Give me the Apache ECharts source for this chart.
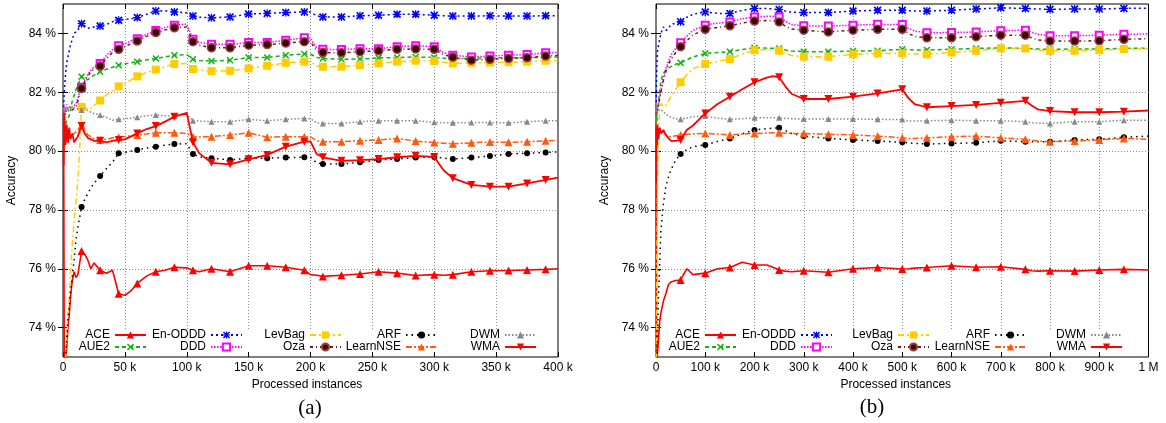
<!DOCTYPE html>
<html><head><meta charset="utf-8">
<script src="https://cdn.jsdelivr.net/npm/echarts@6/dist/echarts.min.js"></script>
<style>html,body{margin:0;padding:0;background:#fff;}#c{width:1166px;height:423px;}</style>
</head><body><div id="c"></div>
<script>
// ---------- DATA ----------
const seriesNames = ['ACE','AUE2','En-ODDD','DDD','LevBag','Oza','ARF','LearnNSE','DWM','WMA'];
const yTicks = [74, 76, 78, 80, 82, 84];
const panelLabels = ['(a)', '(b)'];

// panel (a): processed instances (thousands)
const xA = [0.5, 1, 2, 3, 4, 5, 6,
  7.5, 9, 10.5, 12, 13.5, 15,
  17.5, 20, 22.5, 25, 30, 35, 40, 45, 50, 55, 60,
  67.5, 75, 82.5, 90, 100,
  105, 110, 120, 135, 150, 165, 180, 195, 200,
  205, 210, 225, 240, 255, 270, 285, 300,
  307.5, 315, 330, 345, 360, 375, 390, 400];
const aACE = [81.2, 73.0, 72.9, 73.3, 74.0, 74.4, 75.0,
  75.6, 75.9, 75.7, 75.8, 76.2, 76.6,
  76.5, 76.3, 76.0, 76.2, 75.95, 75.85, 75.95, 75.15, 75.1, 75.25, 75.5,
  75.75, 75.9, 75.95, 76.05, 76.03,
  75.95, 75.9, 76.0, 75.9, 76.1, 76.1, 76.05, 75.95, 75.8,
  75.78, 75.74, 75.78, 75.82, 75.9, 75.85, 75.77, 75.8,
  75.78, 75.8, 75.9, 75.93, 75.94, 75.96, 75.98, 76.0];
const aAUE2 = [80.8, 80.5, 80.9, 81.05, 81.1, 81.2, 81.4,
  81.7, 81.9, 82.1, 82.25, 82.4, 82.53,
  82.45, 82.42, 82.5, 82.58, 82.7, 82.78, 82.85, 82.92, 82.96, 83.0, 83.04,
  83.1, 83.15, 83.2, 83.26, 83.28,
  83.12, 83.08, 83.06, 83.09, 83.18, 83.18, 83.26, 83.3, 83.3,
  83.18, 83.15, 83.12, 83.13, 83.17, 83.18, 83.2, 83.18,
  83.16, 83.15, 83.15, 83.17, 83.17, 83.18, 83.18, 83.2];
const aEnODDD = [81.5, 82.0, 82.6, 83.0, 83.2, 83.4, 83.6,
  83.8, 84.0, 84.05, 84.1, 84.25, 84.33,
  84.25, 84.17, 84.2, 84.22, 84.25, 84.3, 84.4, 84.45, 84.48, 84.5, 84.54,
  84.65, 84.76, 84.77, 84.73, 84.7,
  84.59, 84.55, 84.53, 84.56, 84.66, 84.68, 84.71, 84.73, 84.73,
  84.6, 84.56, 84.56, 84.6, 84.62, 84.65, 84.65, 84.62,
  84.6, 84.59, 84.59, 84.6, 84.59, 84.59, 84.6, 84.6];
const aDDD = [81.6, 81.2, 81.5, 81.4, 81.45, 81.5, 81.45,
  81.5, 81.55, 81.6, 81.8, 82.0, 82.17,
  82.4, 82.6, 82.75, 82.85, 82.98, 83.25, 83.45, 83.58, 83.65, 83.75, 83.82,
  83.97, 84.1, 84.2, 84.28, 84.32,
  83.8, 83.7, 83.63, 83.63, 83.69, 83.69, 83.77, 83.85, 83.83,
  83.5, 83.46, 83.45, 83.48, 83.48, 83.55, 83.58, 83.55,
  83.35, 83.26, 83.2, 83.23, 83.26, 83.28, 83.34, 83.35];
const aLevBag = [72.5, 72.8, 72.9, 73.6, 74.4, 75.0, 75.8,
  76.8, 77.6, 78.3, 79.0, 80.1, 81.5,
  81.5, 81.42, 81.45, 81.55, 81.72, 81.9, 82.05, 82.2, 82.3, 82.42, 82.54,
  82.67, 82.77, 82.87, 82.96, 82.98,
  82.79, 82.75, 82.72, 82.73, 82.81, 82.9, 83.0, 83.04, 83.04,
  82.9, 82.87, 82.87, 82.92, 82.98, 83.04, 83.07, 83.06,
  83.02, 82.98, 83.0, 83.01, 83.02, 83.04, 83.07, 83.08];
const aOza = [81.3, 81.0, 81.4, 81.3, 81.35, 81.4, 81.35,
  81.4, 81.45, 81.5, 81.7, 81.95, 82.13,
  82.35, 82.55, 82.7, 82.78, 82.89, 83.15, 83.35, 83.46, 83.55, 83.65, 83.74,
  83.9, 84.03, 84.12, 84.19, 84.22,
  83.72, 83.6, 83.51, 83.51, 83.6, 83.62, 83.67, 83.72, 83.72,
  83.4, 83.35, 83.34, 83.38, 83.41, 83.46, 83.47, 83.46,
  83.28, 83.19, 83.09, 83.12, 83.15, 83.17, 83.23, 83.25];
const aARF = [72.0, 72.3, 72.8, 73.6, 74.26, 74.7, 75.2,
  75.75, 76.3, 77.0, 77.4, 77.75, 78.1,
  78.35, 78.55, 78.75, 78.9, 79.15, 79.4, 79.62, 79.93, 79.95, 80.0, 80.04,
  80.1, 80.15, 80.2, 80.24, 80.25,
  79.9, 79.8, 79.76, 79.7, 79.76, 79.76, 79.78, 79.79, 79.79,
  79.6, 79.56, 79.56, 79.62, 79.7, 79.73, 79.78, 79.8,
  79.76, 79.73, 79.78, 79.83, 79.9, 79.93, 79.95, 79.97];
const aLearnNSE = [80.0, 80.8, 80.3, 80.5, 80.27, 80.4, 80.5,
  80.55, 80.6, 80.65, 80.7, 80.8, 80.89,
  80.7, 80.55, 80.49, 80.42, 80.38, 80.4, 80.45, 80.47, 80.5, 80.52, 80.55,
  80.58, 80.62, 80.62, 80.62, 80.6,
  80.49, 80.48, 80.49, 80.55, 80.62, 80.47, 80.49, 80.49, 80.48,
  80.35, 80.32, 80.32, 80.35, 80.38, 80.43, 80.34, 80.29,
  80.27, 80.25, 80.28, 80.31, 80.3, 80.32, 80.35, 80.36];
const aDWM = [81.0, 81.5, 81.2, 81.6, 81.4, 81.5, 81.55,
  81.5, 81.45, 81.45, 81.4, 81.42, 81.4,
  81.45, 81.38, 81.32, 81.28, 81.23, 81.15, 81.05, 81.08, 81.1, 81.12, 81.15,
  81.2, 81.23, 81.2, 81.19, 81.25,
  81.03, 81.02, 81.0, 81.0, 81.08, 81.03, 81.08, 81.11, 81.1,
  80.96, 80.94, 80.94, 81.0, 81.03, 81.03, 81.03, 80.98,
  80.96, 80.96, 80.97, 80.97, 80.96, 81.0, 81.03, 81.03];
const aWMA = [79.5, 81.3, 80.2, 80.9, 80.3, 80.8, 80.4,
  80.6, 80.3, 80.4, 80.5, 80.7, 80.85,
  80.6, 80.45, 80.4, 80.35, 80.35, 80.3, 80.35, 80.38, 80.4, 80.5, 80.6,
  80.75, 80.85, 81.0, 81.17, 81.3,
  80.3, 79.93, 79.6, 79.55, 79.72, 79.87, 80.15, 80.32, 80.33,
  79.9, 79.79, 79.67, 79.69, 79.73, 79.79, 79.84, 79.8,
  79.35, 79.08, 78.85, 78.79, 78.79, 78.9, 79.02, 79.1];

// panel (b): processed instances (thousands)
const xB = [0.5, 1, 2, 3, 5, 7.5, 10,
  15, 20, 25, 30, 40, 50, 62.5, 75,
  100, 125, 150, 175, 200, 225, 237.5,
  250, 262.5, 275, 300, 350, 400, 450,
  500, 512.5, 525, 550, 600, 650, 700,
  750, 762.5, 775, 800, 850, 900, 950, 1000];
const bACE = [81.0, 73.0, 72.8, 73.13, 73.6, 74.2, 74.5,
  74.9, 75.15, 75.45, 75.55, 75.6, 75.62, 76.0, 75.8,
  75.85, 76.0, 76.04, 76.22, 76.13, 76.13, 76.05,
  75.96, 75.92, 75.9, 75.93, 75.88, 76.0, 76.04,
  75.99, 76.0, 76.02, 76.04, 76.1, 76.05, 76.07,
  75.98, 75.93, 75.92, 75.93, 75.92, 75.96, 75.98, 75.96];
const bAUE2 = [80.9, 81.3, 81.0, 81.4, 81.6, 82.1, 82.4,
  82.65, 82.75, 82.82, 82.87, 82.95, 83.0, 83.1, 83.2,
  83.32, 83.35, 83.38, 83.45, 83.51, 83.5, 83.5,
  83.49, 83.44, 83.4, 83.38, 83.38, 83.4, 83.41,
  83.46, 83.45, 83.44, 83.44, 83.46, 83.49, 83.51,
  83.49, 83.48, 83.47, 83.46, 83.47, 83.47, 83.49, 83.5];
const bEnODDD = [81.5, 82.5, 83.0, 83.4, 83.6, 83.8, 84.0,
  84.22, 84.1, 84.15, 84.3, 84.35, 84.4, 84.55, 84.65,
  84.73, 84.68, 84.68, 84.78, 84.85, 84.85, 84.83,
  84.81, 84.76, 84.72, 84.71, 84.71, 84.76, 84.79,
  84.79, 84.77, 84.76, 84.76, 84.79, 84.83, 84.87,
  84.85, 84.84, 84.83, 84.82, 84.83, 84.83, 84.85, 84.86];
const bDDD = [81.3, 81.6, 81.4, 81.5, 81.6, 81.9, 82.1,
  82.5, 82.8, 83.05, 83.25, 83.5, 83.68, 83.9, 84.1,
  84.28, 84.35, 84.39, 84.5, 84.56, 84.58, 84.58,
  84.56, 84.42, 84.3, 84.26, 84.25, 84.28, 84.31,
  84.3, 84.18, 84.08, 84.02, 84.03, 84.05, 84.09,
  84.11, 84.05, 83.97, 83.92, 83.92, 83.94, 83.97, 83.98];
const bLevBag = [72.5, 74.0, 77.0, 79.0, 80.5, 81.5, 81.62,
  81.5, 81.55, 81.68, 81.85, 82.1, 82.34, 82.6, 82.8,
  82.96, 83.05, 83.13, 83.3, 83.43, 83.45, 83.44,
  83.41, 83.32, 83.25, 83.21, 83.21, 83.29, 83.32,
  83.32, 83.3, 83.3, 83.29, 83.35, 83.41, 83.49,
  83.49, 83.46, 83.43, 83.41, 83.41, 83.43, 83.47, 83.48];
const bOza = [81.2, 81.4, 81.3, 81.4, 81.5, 81.8, 82.0,
  82.4, 82.7, 82.95, 83.1, 83.35, 83.55, 83.75, 83.95,
  84.14, 84.2, 84.26, 84.35, 84.42, 84.44, 84.43,
  84.39, 84.25, 84.15, 84.11, 84.05, 84.11, 84.14,
  84.14, 84.0, 83.9, 83.85, 83.85, 83.89, 83.94,
  83.94, 83.85, 83.78, 83.74, 83.74, 83.75, 83.8, 83.82];
const bARF = [72.0, 72.5, 73.0, 73.6, 75.0, 76.2, 77.3,
  78.2, 78.8, 79.1, 79.35, 79.7, 79.9, 80.05, 80.15,
  80.21, 80.33, 80.43, 80.58, 80.72, 80.76, 80.78,
  80.79, 80.7, 80.6, 80.51, 80.43, 80.38, 80.34,
  80.3, 80.28, 80.26, 80.24, 80.26, 80.28, 80.35,
  80.32, 80.32, 80.32, 80.32, 80.38, 80.4, 80.47, 80.51];
const bLearnNSE = [80.2, 80.9, 80.5, 80.7, 80.6, 80.7, 80.72,
  80.65, 80.55, 80.5, 80.49, 80.52, 80.55, 80.57, 80.59,
  80.6, 80.58, 80.55, 80.58, 80.6, 80.61, 80.62,
  80.62, 80.61, 80.6, 80.6, 80.57, 80.55, 80.51,
  80.45, 80.43, 80.43, 80.45, 80.49, 80.51, 80.45,
  80.4, 80.37, 80.34, 80.32, 80.34, 80.38, 80.43, 80.4];
const bDWM = [81.0, 81.6, 81.3, 81.5, 81.4, 81.45, 81.4,
  81.35, 81.25, 81.2, 81.15, 81.1, 81.08, 81.12, 81.17,
  81.19, 81.12, 81.08, 81.1, 81.13, 81.13, 81.13,
  81.13, 81.11, 81.1, 81.09, 81.09, 81.09, 81.08,
  81.07, 81.02, 81.02, 81.03, 81.05, 81.03, 81.03,
  81.0, 80.96, 80.95, 80.94, 81.0, 81.0, 81.05, 81.05];
const bWMA = [79.0, 80.8, 80.2, 80.9, 80.4, 80.8, 80.6,
  80.72, 80.55, 80.45, 80.35, 80.35, 80.38, 80.72, 80.87,
  81.28, 81.6, 81.85, 82.1, 82.34, 82.5, 82.55,
  82.51, 82.2, 81.95, 81.77, 81.77, 81.85, 81.96,
  82.1, 81.8, 81.6, 81.49, 81.53, 81.57, 81.64,
  81.71, 81.55, 81.42, 81.36, 81.32, 81.32, 81.34, 81.38];

// ---------- STYLE ----------
const FONT = '"Liberation Sans", Arial, Helvetica, sans-serif';
const P_X = 'path://M0,1.5 L1.5,0 L5,3.5 L8.5,0 L10,1.5 L6.5,5 L10,8.5 L8.5,10 L5,6.5 L1.5,10 L0,8.5 L3.5,5 Z';
const P_STAR = 'path://M0,1.5 L1.5,0 L5,3.5 L8.5,0 L10,1.5 L6.5,5 L10,8.5 L8.5,10 L5,6.5 L1.5,10 L0,8.5 L3.5,5 Z M4.2,0 L5.8,0 L5.8,4.2 L10,4.2 L10,5.8 L5.8,5.8 L5.8,10 L4.2,10 L4.2,5.8 L0,5.8 L0,4.2 L4.2,4.2 Z';
const P_DOWN = 'path://M0,0 L10,0 L5,9 Z';
const STY = {
  'ACE':      {c:'#ff0000', t:'solid',      w:1.6, s:'triangle',  z:8, it:{}},
  'AUE2':     {c:'#13b313', t:[4,3],        w:1.5, s:P_X,         z:7, it:{}},
  'En-ODDD':  {c:'#0000ff', t:[2,3],        w:1.5, s:P_STAR,      z:8, it:{}},
  'DDD':      {c:'#ff00ff', t:[1.5,1.5],    w:1.5, s:'emptyRect', z:7, it:{borderWidth:1.5}},
  'LevBag':   {c:'#ffcc00', t:[6,3,2,3],    w:1.5, s:'rect',      z:8, it:{}},
  'Oza':      {c:'#6b1a1a', t:[3,3,1,3],    w:1.5, s:'circle',    z:8, it:{color:'#3a0808', borderColor:'#9a4040', borderWidth:1.5}},
  'ARF':      {c:'#000000', t:[1.5,4],      w:1.5, s:'circle',    z:6, it:{}},
  'LearnNSE': {c:'#ff5a10', t:[6,2,2,2],    w:1.5, s:'triangle',  z:8, it:{}},
  'DWM':      {c:'#888888', t:[1.5,2],      w:1.5, s:'triangle',  z:6, it:{}},
  'WMA':      {c:'#ff0000', t:'solid',      w:1.8, s:P_DOWN,      z:8, it:{}}
};

const panels = [
  {xs:xA, vals:[aACE,aAUE2,aEnODDD,aDDD,aLevBag,aOza,aARF,aLearnNSE,aDWM,aWMA],
   step:15, max:400, interval:50, grid:{left:63, top:4, width:495, height:353},
   legRight:[1019, 923, 824, 728, 629], key:[75, 548]},
  {xs:xB, vals:[bACE,bAUE2,bEnODDD,bDDD,bLevBag,bOza,bARF,bLearnNSE,bDWM,bWMA],
   step:50, max:1000, interval:100, grid:{left:656, top:4, width:492.5, height:353},
   legRight:[429, 333, 236, 139, 43], key:[668, 1138]}
];
const legendCols = [['ACE','AUE2'],['En-ODDD','DDD'],['LevBag','Oza'],['ARF','LearnNSE'],['DWM','WMA']];

const grids = [], xAxes = [], yAxes = [], series = [], legends = [], graphics = [];
const txt = {fontSize:12, color:'#000', fontFamily:FONT};

panels.forEach((p, pi) => {
  grids.push(Object.assign({show:true, borderColor:'#000', borderWidth:1, backgroundColor:'transparent'}, p.grid));
  const xfmt = v => v === 0 ? '0' : (v >= 1000 ? (v/1000) + ' M' : v + ' k');
  [true, false].forEach(main => {
    xAxes.push({type:'value', gridIndex:pi, min:0, max:p.max, interval:p.interval,
      position: main ? 'bottom' : 'top',
      axisLine:{show:false},
      axisTick:{show:true, inside:true, length:5, lineStyle:{color:'#000', width:1}},
      axisLabel:Object.assign({show:main, margin:5, formatter:xfmt}, txt),
      splitLine:{show:main, showMinLine:false, showMaxLine:false, lineStyle:{color:'#8a8a8a', type:[1,2], width:1}},
      name: main ? 'Processed instances' : '', nameLocation:'middle', nameGap:22,
      nameTextStyle:Object.assign({padding: pi === 0 ? [0,7,0,0] : [0,13,0,0]}, txt)
    });
    yAxes.push({type:'value', gridIndex:pi, min:73, max:85,
      position: main ? 'left' : 'right',
      axisLine:{show:false},
      axisTick:{show:true, inside:true, length:5, customValues:yTicks, lineStyle:{color:'#000', width:1}},
      axisLabel:Object.assign({show:main, margin:7, customValues:yTicks, formatter: v => v + ' %'}, txt),
      splitLine:{show:main, showMinLine:false, showMaxLine:false, lineStyle:{color:'#8a8a8a', type:[1,2], width:1}},
      name: main ? 'Accuracy' : '', nameLocation:'middle', nameGap:45, nameTextStyle:txt
    });
  });
  const isMark = x => x > 0 && x < p.max && Math.abs(x / p.step - Math.round(x / p.step)) < 1e-9;
  seriesNames.forEach((nm, si) => {
    const st = STY[nm];
    series.push({
      type:'line', name:nm, xAxisIndex:pi*2, yAxisIndex:pi*2,
      data: p.xs.map((x, i) => [x, p.vals[si][i]]),
      symbol: st.s, symbolSize: v => isMark(v[0]) ? st.z : 0,
      showSymbol:true, smooth:false, clip:true, animation:false,
      lineStyle:{color:st.c, width:st.w, type:st.t},
      itemStyle:Object.assign({color:st.c}, st.it),
      emphasis:{disabled:true}, z:2 + si*0.01
    });
  });
  legendCols.forEach((col, ci) => {
    legends.push({orient:'vertical', align:'right', right:p.legRight[ci], top:329,
      padding:0, itemGap:0, itemWidth:31, itemHeight:9, selectedMode:false,
      data:col, textStyle:Object.assign({lineHeight:12}, txt)});
  });
  graphics.push({type:'rect', z:1, silent:true,
    shape:{x:p.key[0], y:329.5, width:p.key[1]-p.key[0], height:22}, style:{fill:'#fff'}});
});
graphics.push({type:'text', z:10, x:310, y:408, style:{text:panelLabels[0], font:'21px "Liberation Serif", "Times New Roman", serif', fill:'#000', textAlign:'center', textVerticalAlign:'middle'}});
graphics.push({type:'text', z:10, x:872, y:407, style:{text:panelLabels[1], font:'21px "Liberation Serif", "Times New Roman", serif', fill:'#000', textAlign:'center', textVerticalAlign:'middle'}});

const chart = echarts.init(document.getElementById('c'), null, {renderer:'canvas'});
chart.setOption({
  animation:false, backgroundColor:'#fff',
  grid:grids, xAxis:xAxes, yAxis:yAxes, series:series, legend:legends, graphic:graphics
});
</script></body></html>
